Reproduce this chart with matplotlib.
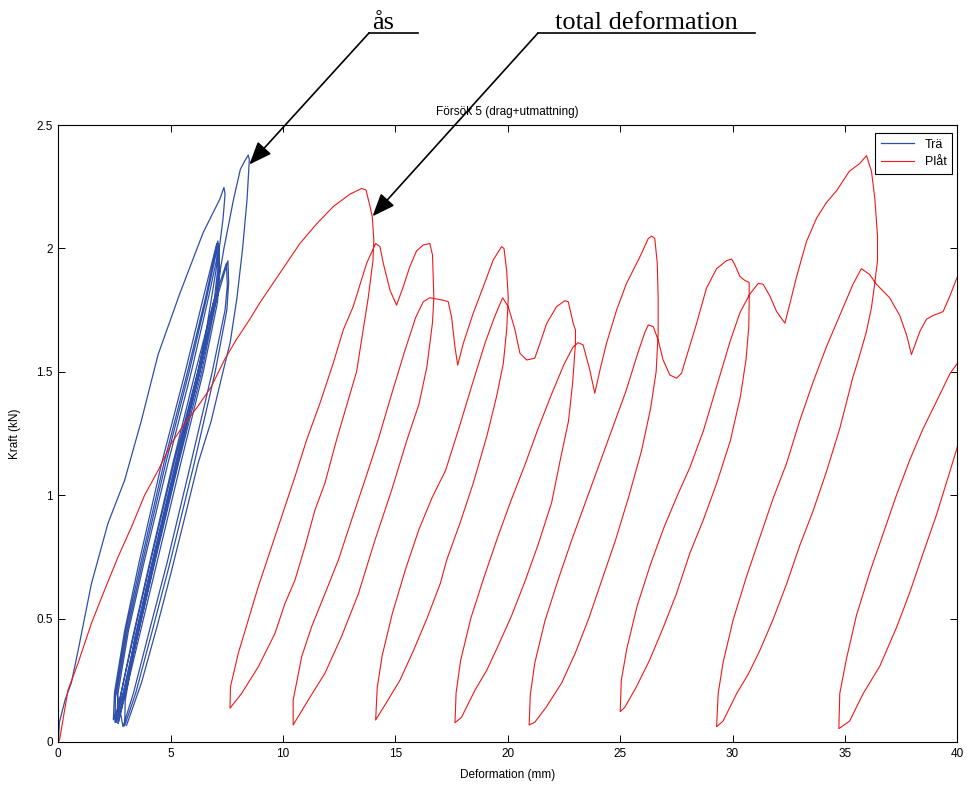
#!/usr/bin/env python3

import numpy as np
import matplotlib
matplotlib.use('Agg')
import matplotlib.pyplot as plt
from matplotlib.lines import Line2D

# Plåt (red) - path split into load / unload branches, in test order
plat_load_x = [0, 0.06, 0.43, 0.88, 1.47, 2.06, 2.66, 3.25, 3.84, 4.44, 5.03, 5.62, 6.21, 6.81,
               7.4, 7.92, 8.5, 8.97, 9.86, 10.75, 11.5, 12.24, 12.98, 13.5, 13.69, 13.87,
               13.97, 14.04]
plat_load_y = [0, 0.01, 0.21, 0.32, 0.48, 0.616, 0.75, 0.87, 1.0, 1.10, 1.21, 1.29, 1.36, 1.44,
               1.55, 1.63, 1.71, 1.78, 1.90, 2.02, 2.10, 2.17, 2.22, 2.243, 2.237, 2.17,
               2.128, 2.034]

plat_un1_x = [14.0, 13.79, 13.27, 12.38, 11.86, 11.42, 10.97, 10.53, 10.08, 9.64, 8.9, 8.16, 7.64]
plat_un1_y = [1.95, 1.80, 1.50, 1.224, 1.048, 0.94, 0.79, 0.656, 0.56, 0.44, 0.305, 0.197, 0.137]

plat_re1_x = [7.66, 8.01, 8.45, 8.9, 9.34, 9.79, 10.23, 10.53, 11.05, 11.64, 12.23, 12.68, 13.12,
              13.72, 14.12, 14.31, 14.46, 14.76, 15.05, 15.35, 15.64, 15.94, 16.24, 16.53, 16.65, 16.71]
plat_re1_y = [0.224, 0.36, 0.494, 0.63, 0.75, 0.872, 0.994, 1.075, 1.224, 1.372, 1.534, 1.67, 1.764,
              1.94, 2.02, 2.007, 1.94, 1.83, 1.77, 1.845, 1.926, 1.99, 2.014, 2.02, 1.973, 1.80]

plat_un2_x = [16.65, 16.4, 16.05, 15.5, 14.83, 14.09, 13.35, 12.6, 11.86, 11.12, 10.45]
plat_un2_y = [1.70, 1.52, 1.37, 1.22, 1.02, 0.818, 0.60, 0.427, 0.278, 0.17, 0.069]

plat_re2_x = [10.45, 10.83, 11.27, 11.86, 12.46, 13.05, 13.64, 14.23, 14.8, 15.4, 15.9, 16.24,
              16.53, 17.13, 17.35, 17.5, 17.65, 17.77, 18.02, 18.46, 18.91, 19.35, 19.72, 19.83,
              19.95, 20.02]
plat_re2_y = [0.17, 0.346, 0.467, 0.60, 0.737, 0.90, 1.06, 1.224, 1.40, 1.58, 1.72, 1.784,
              1.80, 1.79, 1.784, 1.72, 1.60, 1.527, 1.615, 1.737, 1.845, 1.953, 2.007, 2.0,
              1.91, 1.80]

plat_un3_x = [19.95, 19.8, 19.5, 19.06, 18.46, 17.87, 17.28, 17.0, 16.4, 15.8, 15.2, 14.6, 14.12]
plat_un3_y = [1.67, 1.534, 1.40, 1.237, 1.048, 0.886, 0.737, 0.643, 0.50, 0.37, 0.25, 0.16, 0.089]

plat_re3_x = [14.19, 14.41, 14.86, 15.45, 16.04, 16.63, 17.23, 17.82, 18.42, 19.0, 19.4, 19.77,
              20.02, 20.32, 20.54, 20.84, 21.2, 21.43, 21.73, 22.17, 22.54, 22.69, 22.91, 23.01, 23.01]
plat_re3_y = [0.22, 0.35, 0.52, 0.70, 0.86, 0.99, 1.10, 1.27, 1.45, 1.62, 1.72, 1.80,
              1.764, 1.67, 1.575, 1.548, 1.555, 1.615, 1.696, 1.764, 1.788, 1.784, 1.696, 1.67, 1.615]

plat_un4_x = [22.88, 22.7, 22.35, 21.95, 21.35, 20.76, 20.16, 19.57, 19.06, 18.54, 17.94, 17.65]
plat_un4_y = [1.45, 1.30, 1.15, 0.97, 0.80, 0.65, 0.51, 0.39, 0.29, 0.21, 0.10, 0.078]

plat_re4_x = [17.7, 17.9, 18.35, 18.95, 19.55, 20.15, 20.75, 21.35, 21.95, 22.5, 22.9, 23.13,
              23.35, 23.65, 23.87, 24.1, 24.39, 24.84, 25.28, 25.88, 26.25, 26.4, 26.54, 26.65,
              26.69, 26.69]
plat_re4_y = [0.20, 0.33, 0.50, 0.67, 0.83, 0.98, 1.12, 1.27, 1.41, 1.53, 1.60, 1.618,
              1.609, 1.507, 1.413, 1.507, 1.615, 1.75, 1.858, 1.966, 2.04, 2.05, 2.04, 1.94,
              1.80, 1.656]

plat_un5_x = [26.6, 26.35, 25.95, 25.4, 24.8, 24.2, 23.6, 23.0, 22.4, 21.7, 21.2, 20.95]
plat_un5_y = [1.50, 1.35, 1.18, 1.0, 0.82, 0.66, 0.5, 0.36, 0.24, 0.14, 0.08, 0.069]

plat_re5_x = [21.0, 21.2, 21.65, 22.25, 22.85, 23.45, 24.05, 24.65, 25.25, 25.8, 26.1, 26.25,
              26.47, 26.69, 26.91, 27.21, 27.51, 27.73, 27.95, 28.4, 28.84, 29.29, 29.73, 29.96,
              30.1, 30.33, 30.55, 30.74, 30.74]
plat_re5_y = [0.19, 0.32, 0.49, 0.66, 0.82, 0.97, 1.12, 1.27, 1.42, 1.58, 1.66, 1.69,
              1.683, 1.629, 1.548, 1.487, 1.474, 1.494, 1.561, 1.696, 1.839, 1.918, 1.95, 1.957,
              1.934, 1.886, 1.87, 1.862, 1.776]

plat_un6_x = [30.72, 30.6, 30.35, 29.9, 29.3, 28.7, 28.1, 27.5, 26.9, 26.3, 25.7, 25.2, 25.0]
plat_un6_y = [1.68, 1.55, 1.40, 1.22, 1.05, 0.90, 0.765, 0.60, 0.46, 0.33, 0.22, 0.14, 0.123]

plat_re6_x = [25.05, 25.3, 25.75, 26.35, 26.95, 27.55, 28.1, 28.7, 29.29, 29.88, 30.33, 30.77,
              31.14, 31.36, 31.66, 31.96, 32.33, 32.55, 32.85, 33.29, 33.74, 34.18, 34.63, 35.2,
              35.66, 35.96, 36.18, 36.33, 36.45, 36.45, 36.3]
plat_re6_y = [0.25, 0.38, 0.55, 0.72, 0.87, 1.0, 1.112, 1.26, 1.44, 1.62, 1.74, 1.815,
              1.858, 1.855, 1.807, 1.744, 1.697, 1.776, 1.886, 2.028, 2.123, 2.186, 2.234, 2.313,
              2.344, 2.376, 2.313, 2.202, 2.05, 1.95, 1.839]

plat_un7_x = [36.18, 35.95, 35.6, 35.36, 34.77, 34.18, 33.59, 32.99, 32.4, 31.8, 31.21, 30.7,
              30.18, 29.58, 29.29]
plat_un7_y = [1.76, 1.66, 1.55, 1.48, 1.27, 1.096, 0.938, 0.796, 0.639, 0.496, 0.37, 0.275,
              0.196, 0.085, 0.062]

plat_re7_x = [29.36, 29.58, 30.03, 30.62, 31.21, 31.8, 32.4, 32.99, 33.59, 34.18, 34.77, 35.36,
              35.73, 36.1, 36.4, 36.99, 37.44, 37.74, 37.96, 38.34, 38.63, 38.92, 39.37, 39.67,
              40.04, 40.6, 41.2]
plat_re7_y = [0.196, 0.323, 0.496, 0.67, 0.828, 0.986, 1.128, 1.302, 1.46, 1.602, 1.728, 1.855,
              1.918, 1.894, 1.855, 1.80, 1.728, 1.65, 1.57, 1.665, 1.713, 1.728, 1.744, 1.807,
              1.894, 2.0, 1.9]

plat_un8_x = [41.0, 40.6, 40.04, 39.67, 39.08, 38.48, 37.89, 37.3, 36.55, 35.81, 35.21, 34.73]
plat_un8_y = [1.55, 1.40, 1.207, 1.096, 0.922, 0.765, 0.607, 0.465, 0.307, 0.196, 0.085, 0.054]

plat_re8_x = [34.77, 35.07, 35.51, 36.1, 36.7, 37.3, 37.89, 38.48, 39.08, 39.67, 40.04, 40.6]
plat_re8_y = [0.196, 0.338, 0.512, 0.686, 0.844, 1.002, 1.144, 1.27, 1.381, 1.492, 1.539, 1.62]

# Trä (blue)
tra_load_x = [0, 0.05, 0.3, 0.58, 0.88, 1.47, 2.21, 2.95, 3.69, 4.44, 5.41, 6.45, 7.19, 7.37]
tra_load_y = [0, 0.08, 0.17, 0.24, 0.37, 0.64, 0.886, 1.06, 1.30, 1.57, 1.818, 2.065, 2.2, 2.247]

tra_un0_x = [7.42, 7.33, 7.12, 6.5, 5.5, 4.45, 3.7, 3.0, 2.45]
tra_un0_y = [2.22, 2.12, 1.97, 1.62, 1.2, 0.8, 0.5, 0.22, 0.09]

tra_reA1_x = [2.5, 2.95, 3.6, 4.6, 5.65, 6.45, 7.05]
tra_reA1_y = [0.2, 0.45, 0.73, 1.13, 1.5, 1.8, 2.02]
tra_unA1_x = [7.1, 6.95, 6.2, 5.15, 4.1, 3.4, 2.8, 2.52]
tra_unA1_y = [1.92, 1.8, 1.5, 1.13, 0.73, 0.45, 0.2, 0.08]

tra_reA2_x = [2.55, 3.0, 3.68, 4.7, 5.75, 6.55, 7.1]
tra_reA2_y = [0.2, 0.45, 0.73, 1.13, 1.5, 1.8, 2.03]
tra_unA2_x = [7.15, 7.02, 6.3, 5.25, 4.2, 3.5, 2.88, 2.55]
tra_unA2_y = [1.93, 1.8, 1.5, 1.13, 0.73, 0.45, 0.2, 0.08]

tra_reA3_x = [2.6, 3.06, 3.75, 4.78, 5.82, 6.6, 7.12]
tra_reA3_y = [0.2, 0.45, 0.73, 1.13, 1.5, 1.8, 2.02]
tra_unA3_x = [7.16, 7.05, 6.38, 5.35, 4.3, 3.58, 2.95, 2.6]
tra_unA3_y = [1.92, 1.8, 1.5, 1.13, 0.73, 0.45, 0.2, 0.08]

tra_reA4_x = [2.66, 3.12, 3.82, 4.88, 5.92, 6.68, 7.15]
tra_reA4_y = [0.2, 0.45, 0.73, 1.13, 1.5, 1.8, 2.0]
tra_unA4_x = [7.18, 7.08, 6.45, 5.45, 4.4, 3.66, 3.0, 2.66]
tra_unA4_y = [1.9, 1.78, 1.5, 1.13, 0.73, 0.45, 0.2, 0.075]

tra_reB1_x = [2.75, 3.3, 4.05, 5.1, 6.1, 6.9, 7.48]
tra_reB1_y = [0.18, 0.42, 0.72, 1.13, 1.5, 1.78, 1.94]
tra_unB1_x = [7.52, 7.42, 6.85, 5.9, 4.85, 4.05, 3.35, 2.88]
tra_unB1_y = [1.85, 1.75, 1.5, 1.13, 0.73, 0.45, 0.2, 0.062]

tra_reB2_x = [2.92, 3.4, 4.15, 5.22, 6.22, 7.0, 7.55]
tra_reB2_y = [0.18, 0.42, 0.72, 1.13, 1.5, 1.78, 1.95]
tra_unB2_x = [7.58, 7.5, 6.98, 6.05, 4.98, 4.18, 3.45, 2.95]
tra_unB2_y = [1.86, 1.75, 1.5, 1.13, 0.73, 0.45, 0.2, 0.065]

tra_reF_x = [2.98, 3.45, 4.2, 5.3, 6.3, 7.0, 7.37, 7.8, 8.1, 8.3, 8.45]
tra_reF_y = [0.17, 0.42, 0.72, 1.13, 1.5, 1.8, 2.0, 2.2, 2.32, 2.355, 2.378]
tra_unF_x = [8.5, 8.4, 8.2, 7.95, 7.65, 7.3, 6.8, 6.22, 5.6, 5.0, 4.4, 3.7, 3.04]
tra_unF_y = [2.36, 2.2, 2.0, 1.8, 1.62, 1.49, 1.3, 1.13, 0.9, 0.68, 0.47, 0.24, 0.068]

xticks = [0, 5, 10, 15, 20, 25, 30, 35, 40]
yticks = [0, 0.5, 1, 1.5, 2, 2.5]

BLUE = '#2f4fa8'
RED = '#f01818'
W, H = 969, 786


def main():
    plt.rcParams['font.family'] = ['Liberation Sans', 'DejaVu Sans']

    plat_x = np.concatenate([plat_load_x, plat_un1_x, plat_re1_x, plat_un2_x, plat_re2_x,
                             plat_un3_x, plat_re3_x, plat_un4_x, plat_re4_x, plat_un5_x,
                             plat_re5_x, plat_un6_x, plat_re6_x, plat_un7_x, plat_re7_x,
                             plat_un8_x, plat_re8_x])
    plat_y = np.concatenate([plat_load_y, plat_un1_y, plat_re1_y, plat_un2_y, plat_re2_y,
                             plat_un3_y, plat_re3_y, plat_un4_y, plat_re4_y, plat_un5_y,
                             plat_re5_y, plat_un6_y, plat_re6_y, plat_un7_y, plat_re7_y,
                             plat_un8_y, plat_re8_y])
    tra_x = np.concatenate([tra_load_x, tra_un0_x, tra_reA1_x, tra_unA1_x, tra_reA2_x, tra_unA2_x,
                            tra_reB1_x, tra_unB1_x, tra_reA3_x, tra_unA3_x, tra_reA4_x,
                            tra_unA4_x, tra_reB2_x, tra_unB2_x, tra_reF_x, tra_unF_x])
    tra_y = np.concatenate([tra_load_y, tra_un0_y, tra_reA1_y, tra_unA1_y, tra_reA2_y, tra_unA2_y,
                            tra_reB1_y, tra_unB1_y, tra_reA3_y, tra_unA3_y, tra_reA4_y,
                            tra_unA4_y, tra_reB2_y, tra_unB2_y, tra_reF_y, tra_unF_y])

    fig = plt.figure(figsize=(W / 100, H / 100), dpi=100)
    ax = fig.add_axes([58.3 / W, 44 / H, 899 / W, 617 / H])

    ax.plot(tra_x, tra_y, color=BLUE, lw=0.9, label='Trä')
    ax.plot(plat_x, plat_y, color=RED, lw=0.8, label='Plåt')

    ax.set_xlim(0, 40)
    ax.set_ylim(0, 2.5)
    ax.set_xticks(xticks)
    ax.set_yticks(yticks)
    ax.set_xticklabels([str(t) for t in xticks])
    ax.set_yticklabels(['0', '0.5', '1', '1.5', '2', '2.5'])
    ax.tick_params(direction='in', length=5, width=0.7, labelsize=8.5, pad=4,
                   top=True, right=True)
    for s in ax.spines.values():
        s.set_linewidth(0.8)

    ax.set_title('Försök 5 (drag+utmattning)', fontsize=8.5, pad=7)
    ax.set_xlabel('Deformation (mm)', fontsize=8.5)
    ax.set_ylabel('Kraft (kN)', fontsize=8.5)
    ax.xaxis.set_label_coords(0.5, -0.044)
    ax.yaxis.set_label_coords(-0.0415, 0.5)

    leg = ax.legend(loc='upper right', bbox_to_anchor=(0.9944, 0.987), borderaxespad=0,
                    fontsize=9, fancybox=False, framealpha=1, edgecolor='k',
                    handlelength=2.6, labelspacing=0.45, borderpad=0.45, handletextpad=0.9)
    leg.get_frame().set_linewidth(0.8)

    # annotations above the plot (figure pixel positions)
    serif = ['Liberation Serif', 'DejaVu Serif']
    fig.text(383 / W, (H - 29) / H, 'ås', fontsize=19, family=serif, ha='center', va='baseline')
    fig.text(646 / W, (H - 29) / H, 'total deformation', fontsize=19, family=serif,
             ha='center', va='baseline')
    fig.add_artist(Line2D([369 / W, 418 / W], [(H - 33) / H] * 2, transform=fig.transFigure,
                          color='k', lw=1.2))
    fig.add_artist(Line2D([538 / W, 755 / W], [(H - 33) / H] * 2, transform=fig.transFigure,
                          color='k', lw=1.2))
    arrow = dict(arrowstyle='-|>,head_length=0.7,head_width=0.28', color='k', lw=1.2,
                 shrinkA=0, shrinkB=0, mutation_scale=20)
    ax.annotate('', xy=(8.5, 2.34), xycoords='data', xytext=(369 / W, (H - 33) / H),
                textcoords='figure fraction', arrowprops=arrow, annotation_clip=False)
    ax.annotate('', xy=(13.98, 2.13), xycoords='data', xytext=(538 / W, (H - 33) / H),
                textcoords='figure fraction', arrowprops=arrow, annotation_clip=False)

    fig.savefig('out.png', dpi=100)


if __name__ == "__main__":
    main()
